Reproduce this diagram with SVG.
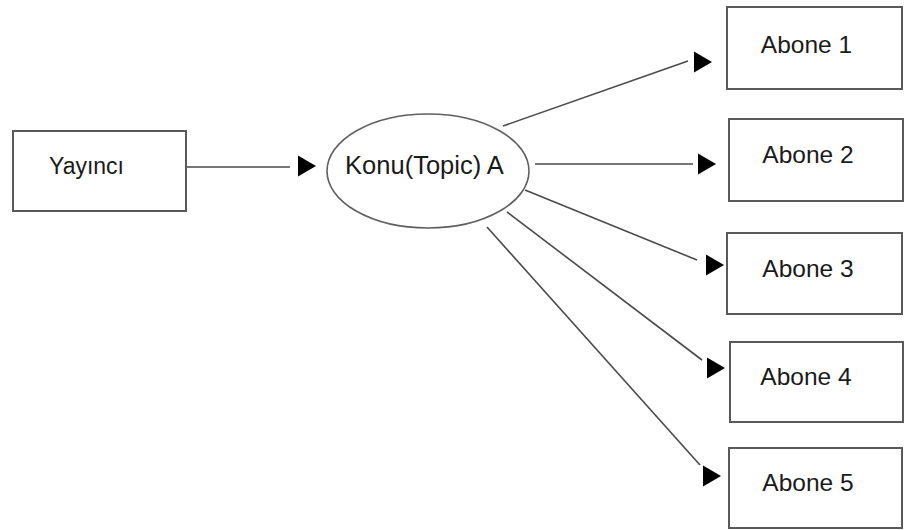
<svg xmlns="http://www.w3.org/2000/svg" xmlns:xlink="http://www.w3.org/1999/xlink" width="907" height="530" viewBox="0 0 907 530">
  <style>
    .box { fill: #ffffff; stroke: #5a5a5a; stroke-width: 2; }
    .oval { fill: #ffffff; stroke: #5f5f5f; stroke-width: 1.6; }
    .lbl { font-family: "Liberation Sans", Arial, sans-serif; font-size: 24.5px; fill: #1a1a1a; }
    .wire { stroke: #4a4a4a; stroke-width: 1.6; fill: none; }
    .head { fill: #000000; }
  </style>
  <defs>
    <!-- right-pointing arrowhead, tip at local (18,0) -->
    <path id="tri" d="M0,-10.5 L18,0 L0,10.5 Z"/>
  </defs>
  <rect width="907" height="530" fill="#ffffff"/>

  <g id="connectors">
    <line class="wire" x1="187" y1="167" x2="290" y2="167"/>
    <use xlink:href="#tri" class="head" x="298" y="166"/>

    <line class="wire" x1="503" y1="126" x2="688" y2="61"/>
    <use xlink:href="#tri" class="head" x="694" y="62"/>

    <line class="wire" x1="535" y1="164" x2="693" y2="164"/>
    <use xlink:href="#tri" class="head" x="698" y="164"/>

    <line class="wire" x1="525" y1="190" x2="697" y2="260"/>
    <use xlink:href="#tri" class="head" x="706" y="265"/>

    <line class="wire" x1="507" y1="212" x2="702" y2="360"/>
    <use xlink:href="#tri" class="head" x="707" y="368"/>

    <line class="wire" x1="487" y1="227" x2="700" y2="465"/>
    <use xlink:href="#tri" class="head" x="703" y="476"/>
  </g>

  <g id="yayinci">
    <rect class="box" x="13" y="131" width="173" height="80"/>
    <text class="lbl" x="49" y="174" style="font-size:23px">Yayıncı</text>
  </g>

  <g id="konu">
    <ellipse class="oval" cx="428" cy="171" rx="101" ry="57"/>
    <text class="lbl" x="424.5" y="174" text-anchor="middle" style="font-size:25.5px">Konu(Topic) A</text>
  </g>

  <g id="abone1">
    <rect class="box" x="727" y="7" width="175" height="82"/>
    <text class="lbl" x="806.5" y="53" text-anchor="middle">Abone 1</text>
  </g>

  <g id="abone2">
    <rect class="box" x="729" y="119" width="174" height="82"/>
    <text class="lbl" x="808" y="163" text-anchor="middle">Abone 2</text>
  </g>

  <g id="abone3">
    <rect class="box" x="727" y="233" width="175" height="81"/>
    <text class="lbl" x="808" y="277" text-anchor="middle">Abone 3</text>
  </g>

  <g id="abone4">
    <rect class="box" x="730" y="342" width="173" height="80"/>
    <text class="lbl" x="806" y="385" text-anchor="middle">Abone 4</text>
  </g>

  <g id="abone5">
    <rect class="box" x="729" y="448" width="173" height="80"/>
    <text class="lbl" x="808" y="491" text-anchor="middle">Abone 5</text>
  </g>
</svg>
